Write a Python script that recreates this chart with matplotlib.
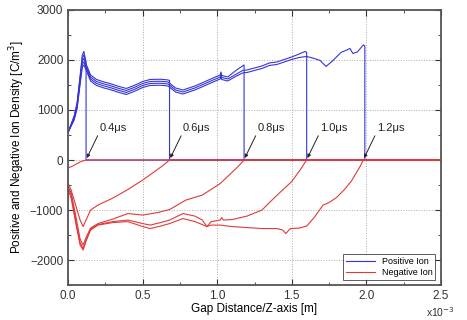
import matplotlib
matplotlib.use('Agg')
import matplotlib.pyplot as plt
from matplotlib.ticker import MultipleLocator

plt.rcParams['font.family'] = ['Liberation Sans', 'DejaVu Sans']

# fronts of the streamer at each time (mm)
times = ['0.4', '0.6', '0.8', '1.0', '1.2']
fronts = [0.12, 0.68, 1.18, 1.60, 1.98]
label_x = [0.21, 0.77, 1.27, 1.69, 2.07]

# positive ion density (C/m^3), x in mm
pos_x_04 = [0, 0.02, 0.04, 0.06, 0.08, 0.095, 0.105, 0.12, 0.12, 2.5]
pos_y_04 = [560, 720, 880, 1150, 1680, 2100, 2170, 1960, 0, 0]

pos_x_06 = [0, 0.02, 0.04, 0.06, 0.08, 0.095, 0.105, 0.12, 0.15, 0.19, 0.24, 0.28, 0.33,
            0.39, 0.45, 0.5, 0.55, 0.62, 0.67, 0.68, 0.68, 2.5]
pos_y_06 = [560, 710, 860, 1120, 1640, 2040, 2100, 1920, 1700, 1610, 1560, 1530, 1480,
            1430, 1500, 1570, 1610, 1615, 1600, 1590, 0, 0]

pos_x_08 = [0, 0.02, 0.04, 0.06, 0.08, 0.095, 0.105, 0.12, 0.15, 0.19, 0.24, 0.28, 0.33,
            0.39, 0.45, 0.5, 0.55, 0.62, 0.67, 0.72, 0.77, 0.85, 0.92, 0.98, 1.02,
            1.025, 1.03, 1.07, 1.13, 1.17, 1.18, 1.18, 2.5]
pos_y_08 = [560, 700, 840, 1090, 1600, 1980, 2030, 1880, 1660, 1570, 1520, 1490, 1440,
            1390, 1460, 1530, 1570, 1575, 1560, 1440, 1400, 1480, 1570, 1650, 1700,
            1760, 1690, 1660, 1800, 1880, 1900, 0, 0]

pos_x_10 = [0, 0.02, 0.04, 0.06, 0.08, 0.095, 0.105, 0.12, 0.15, 0.19, 0.24, 0.28, 0.33,
            0.39, 0.45, 0.5, 0.55, 0.62, 0.67, 0.72, 0.77, 0.85, 0.92, 0.98, 1.02,
            1.025, 1.03, 1.07, 1.13, 1.17, 1.2, 1.25, 1.3, 1.35, 1.4, 1.45, 1.5,
            1.55, 1.59, 1.6, 1.6, 2.5]
pos_y_10 = [560, 690, 820, 1060, 1560, 1920, 1960, 1840, 1620, 1530, 1480, 1450, 1400,
            1350, 1420, 1490, 1530, 1535, 1520, 1400, 1360, 1440, 1530, 1610, 1660,
            1720, 1650, 1620, 1720, 1790, 1800, 1840, 1880, 1940, 1960, 2010, 2060,
            2120, 2170, 2150, 0, 0]

pos_x_12 = [0, 0.02, 0.04, 0.06, 0.08, 0.095, 0.105, 0.12, 0.15, 0.19, 0.24, 0.28, 0.33,
            0.39, 0.45, 0.5, 0.55, 0.62, 0.67, 0.72, 0.77, 0.85, 0.92, 0.98, 1.02,
            1.025, 1.03, 1.07, 1.13, 1.17, 1.2, 1.25, 1.3, 1.35, 1.4, 1.45, 1.5,
            1.55, 1.6, 1.65, 1.69, 1.73, 1.78, 1.83, 1.87, 1.89, 1.91, 1.94, 1.98,
            1.99, 1.99, 2.5]
pos_y_12 = [560, 680, 800, 1030, 1520, 1860, 1900, 1800, 1580, 1490, 1440, 1410, 1360,
            1310, 1380, 1450, 1490, 1495, 1480, 1360, 1320, 1400, 1490, 1570, 1620,
            1680, 1610, 1580, 1680, 1740, 1750, 1790, 1830, 1890, 1910, 1960, 2010,
            2050, 2070, 2030, 1990, 1870, 2000, 2150, 2200, 2230, 2130, 2160, 2300,
            2280, 0, 0]

# negative ion density (C/m^3)
neg_x_04 = [0, 0.03, 0.06, 0.09, 0.12, 2.5]
neg_y_04 = [-160, -120, -70, -25, 0, 0]

neg_x_06 = [0, 0.02, 0.05, 0.08, 0.1, 0.12, 0.15, 0.2, 0.3, 0.4, 0.5, 0.58, 0.64, 0.68, 2.5]
neg_y_06 = [-470, -600, -900, -1200, -1330, -1200, -1000, -900, -760, -590, -400, -230,
            -100, 0, 0]

neg_x_08 = [0, 0.02, 0.05, 0.08, 0.1, 0.12, 0.15, 0.2, 0.3, 0.4, 0.5, 0.6, 0.68, 0.79,
            0.9, 1.02, 1.08, 1.14, 1.18, 2.5]
neg_y_08 = [-540, -650, -1100, -1580, -1700, -1550, -1360, -1270, -1180, -1070, -1100,
            -1050, -990, -800, -700, -470, -300, -130, 0, 0]

neg_x_10 = [0, 0.02, 0.05, 0.08, 0.1, 0.12, 0.15, 0.2, 0.3, 0.4, 0.5, 0.55, 0.62, 0.68,
            0.77, 0.85, 0.9, 0.93, 0.96, 1.02, 1.03, 1.04, 1.1, 1.2, 1.3, 1.35, 1.42,
            1.5, 1.56, 1.6, 2.5]
neg_y_10 = [-560, -700, -1200, -1650, -1770, -1600, -1380, -1290, -1230, -1200, -1270,
            -1300, -1250, -1200, -1070, -1120, -1200, -1330, -1230, -1200, -1150,
            -1200, -1190, -1120, -1000, -850, -650, -430, -180, 0, 0]

neg_x_12 = [0, 0.02, 0.05, 0.08, 0.1, 0.12, 0.15, 0.2, 0.3, 0.4, 0.5, 0.55, 0.62, 0.68,
            0.77, 0.85, 0.9, 0.93, 0.96, 1.02, 1.1, 1.2, 1.3, 1.4, 1.44, 1.46, 1.49,
            1.55, 1.6, 1.65, 1.71, 1.75, 1.8, 1.85, 1.9, 1.93, 1.96, 1.98, 2.5]
neg_y_12 = [-600, -760, -1250, -1700, -1800, -1620, -1400, -1300, -1250, -1230, -1330,
            -1370, -1320, -1270, -1170, -1230, -1290, -1330, -1300, -1300, -1330,
            -1350, -1370, -1370, -1400, -1470, -1370, -1360, -1320, -1150, -900, -850,
            -750, -600, -420, -270, -120, 0, 0]

pos_x = [pos_x_04, pos_x_06, pos_x_08, pos_x_10, pos_x_12]
pos_y = [pos_y_04, pos_y_06, pos_y_08, pos_y_10, pos_y_12]
neg_x = [neg_x_04, neg_x_06, neg_x_08, neg_x_10, neg_x_12]
neg_y = [neg_y_04, neg_y_06, neg_y_08, neg_y_10, neg_y_12]

blue = '#3535d8'
red = '#e03a3a'

fig = plt.figure(figsize=(4.67, 3.2), dpi=100)
ax = fig.add_axes([0.146, 0.109, 0.798, 0.860])

for i in range(5):
    ax.plot(pos_x[i], pos_y[i], color=blue, lw=0.8,
            label='Positive Ion' if i == 0 else None)
for i in range(5):
    ax.plot(neg_x[i], neg_y[i], color=red, lw=0.8,
            label='Negative Ion' if i == 0 else None)

# time labels with arrows pointing at the fronts
for t, f, lx in zip(times, fronts, label_x):
    ax.annotate(t + 'μs', xy=(f + 0.005, 40), xytext=(lx, 640),
                fontsize=8, color='#222222', ha='left', va='center',
                arrowprops=dict(arrowstyle='-|>', color='#222222', lw=0.7,
                                mutation_scale=5, shrinkA=0, shrinkB=0,
                                relpos=(0, 0.1)))

ax.set_xlim(0, 2.5)
ax.set_ylim(-2500, 3000)
ax.xaxis.set_major_locator(MultipleLocator(0.5))
ax.xaxis.set_minor_locator(MultipleLocator(0.25))
ax.yaxis.set_major_locator(MultipleLocator(1000))
ax.yaxis.set_minor_locator(MultipleLocator(500))
ax.xaxis.set_major_formatter(matplotlib.ticker.FormatStrFormatter('%.1f'))
ax.tick_params(which='both', direction='in', top=True, right=True,
               labelsize=8.5, colors='#333333')
ax.tick_params(which='major', length=4)
ax.tick_params(which='minor', length=2)
ax.grid(True, which='major', linestyle=':', color='#aaaaaa', lw=0.7)
for s in ax.spines.values():
    s.set_color('#555555')
    s.set_linewidth(1.3)

ax.set_xlabel('Gap Distance/Z-axis [m]', fontsize=8.5, labelpad=1)
ax.set_ylabel('Positive and Negative Ion Density [C/m$^3$]', fontsize=8.5, labelpad=2)
ax.text(1.0, -0.098, 'x10$^{-3}$', transform=ax.transAxes, ha='center', va='center',
        fontsize=7.5, color='#333333')

leg = ax.legend(loc='lower right', fontsize=6.5, frameon=True, fancybox=False,
                edgecolor='#333333', borderpad=0.3, handlelength=3.2,
                labelspacing=0.2, borderaxespad=0.6)
leg.get_frame().set_linewidth(0.7)

fig.savefig('out.png', dpi=100)
